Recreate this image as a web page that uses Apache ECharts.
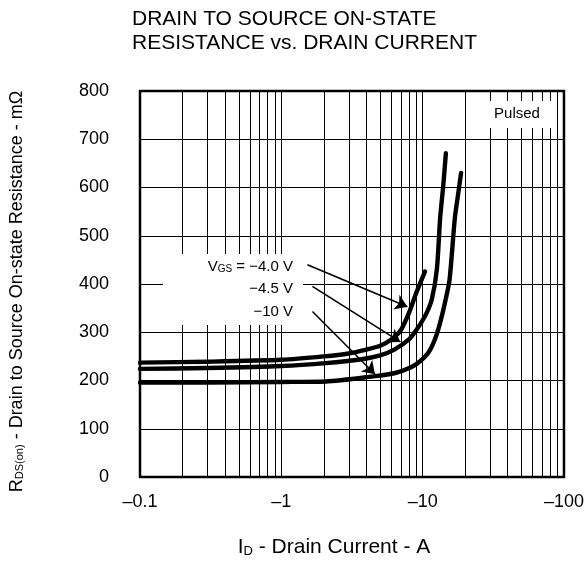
<!DOCTYPE html>
<html>
<head>
<meta charset="utf-8">
<script src="https://cdn.jsdelivr.net/npm/echarts@6/dist/echarts.min.js"></script>
<style>
html,body{margin:0;padding:0;background:#fff;}
#chart{width:587px;height:563px;}
</style>
</head>
<body>
<div id="chart"></div>
<script>
// ---- data ----
const yTicks = [0, 100, 200, 300, 400, 500, 600, 700, 800];
const xDecades = [0.1, 1, 10, 100];
const xGridTicks = [0.2,0.3,0.4,0.5,0.6,0.7,0.8,0.9,1,2,3,4,5,6,7,8,9,10,20,30,40,50,60,70,80,90];

const id_vgs40 = [0.1, 0.3, 1, 2, 3, 4, 5, 6, 7, 8, 9, 10.4];
const r_vgs40  = [237, 239, 243, 250, 256, 264, 272, 285, 304, 340, 381, 426];

const id_vgs45 = [0.1, 0.3, 1, 2.06, 3.7, 5, 6.3, 8, 9.1, 10.5, 11.6, 12.6, 13.3, 14.0, 14.6];
const r_vgs45  = [224, 226, 230, 236, 244, 252, 264, 285, 306, 336, 368, 430, 537, 605, 671];

const id_vgs10 = [0.1, 0.3, 1, 2.06, 4.58, 6.3, 8.2, 9.6, 11.0, 12.2, 13.3, 14.4, 15.5, 16.9, 17.8, 18.7];
const r_vgs10  = [196, 196, 197, 198, 209, 215, 227, 240, 258, 285, 320, 362, 409, 537, 585, 630];

// annotation arrows: [fromI, fromR, toI, toR]
const arrow40 = [1.53, 440, 7.8, 353];
const arrow45 = [1.66, 395, 6.95, 280];
const arrow10 = [1.66, 343, 4.6, 213];

const vgsLabels = ['−4.0 V', '−4.5 V', '−10 V'];

// ---- chart ----
const FONT = '"Liberation Sans", Arial, sans-serif';
const pairs = (xs, ys) => xs.map((x, i) => [x, ys[i]]);
const arrowItem = a => [{coord: [a[0], a[1]]}, {coord: [a[2], a[3]]}];

const chart = echarts.init(document.getElementById('chart'), null, {renderer: 'canvas'});

const curveStyle = {color: '#000', width: 4.4, cap: 'round', join: 'round'};

const option = {
  animation: false,
  backgroundColor: '#fff',
  textStyle: {fontFamily: FONT, color: '#000'},
  title: {
    text: 'DRAIN TO SOURCE ON-STATE\nRESISTANCE vs. DRAIN CURRENT',
    left: 127, top: 2,
    textStyle: {fontFamily: FONT, fontSize: 21, fontWeight: 'normal', color: '#000', lineHeight: 24}
  },
  grid: {
    left: 137, top: 91, right: 17, bottom: 85,
    show: true, borderColor: '#000', borderWidth: 2.5, backgroundColor: 'transparent'
  },
  xAxis: {
    type: 'log', logBase: 10, min: xDecades[0], max: xDecades[xDecades.length - 1],
    axisLine: {show: false},
    axisTick: {show: false},
    splitLine: {show: false},
    axisLabel: {
      fontFamily: FONT, fontSize: 18, color: '#000', margin: 16,
      formatter: v => '–' + v
    },
    name: 'I{sub|D} - Drain Current - A',
    nameLocation: 'middle', nameGap: 60,
    nameTextStyle: {
      fontFamily: FONT, fontSize: 21, color: '#000', padding: [0, 36, 0, 0],
      rich: {sub: {fontFamily: FONT, fontSize: 13, color: '#000', verticalAlign: 'bottom', padding: [8, 0, 0, 0]}}
    }
  },
  yAxis: {
    type: 'value', min: yTicks[0], max: yTicks[yTicks.length - 1], interval: 100,
    axisLine: {show: false},
    axisTick: {show: false},
    splitLine: {show: true, lineStyle: {color: '#000', width: 1}},
    axisLabel: {fontFamily: FONT, fontSize: 18, color: '#000', margin: 31},
    name: 'R{sub|DS(on)} - Drain to Source On-state Resistance - mΩ',
    nameLocation: 'middle', nameGap: 114, nameRotate: 90,
    nameTextStyle: {
      fontFamily: FONT, fontSize: 18, color: '#000', padding: [0, 15, 0, 0],
      rich: {sub: {fontFamily: FONT, fontSize: 11, color: '#000', padding: [6, 0, 0, 0]}}
    }
  },
  series: [
    {
      type: 'line', data: [], silent: true, z: 1,
      markLine: {
        silent: true, symbol: ['none', 'none'], animation: false,
        label: {show: false},
        lineStyle: {color: '#000', width: 1, type: 'solid'},
        emphasis: {disabled: true},
        data: xGridTicks.map(v => ({xAxis: v}))
      }
    },
    {type: 'line', name: 'VGS=-4.0V', data: pairs(id_vgs40, r_vgs40), showSymbol: false, smooth: 0.25, lineStyle: curveStyle, z: 5, silent: true},
    {type: 'line', name: 'VGS=-4.5V', data: pairs(id_vgs45, r_vgs45), showSymbol: false, smooth: 0.25, lineStyle: curveStyle, z: 5, silent: true},
    {type: 'line', name: 'VGS=-10V', data: pairs(id_vgs10, r_vgs10), showSymbol: false, smooth: 0.25, lineStyle: curveStyle, z: 5, silent: true},
    {
      type: 'line', data: [], silent: true, z: 6,
      markLine: {
        silent: true, symbol: ['none', 'arrow'], symbolSize: 12, animation: false,
        label: {show: false},
        lineStyle: {color: '#000', width: 1.6, type: 'solid'},
        itemStyle: {color: '#000'},
        emphasis: {disabled: true},
        data: [arrowItem(arrow40), arrowItem(arrow45), arrowItem(arrow10)]
      }
    }
  ],
  graphic: [
    {type: 'rect', shape: {x: 476, y: 101, width: 81, height: 27}, style: {fill: '#fff'}, z: 50, silent: true},
    {type: 'text', x: 517, y: 114, z: 51, silent: true,
      style: {text: 'Pulsed', fontFamily: FONT, fontSize: 15, fill: '#000', align: 'center', verticalAlign: 'middle'}},
    {type: 'rect', shape: {x: 163, y: 254, width: 140, height: 71}, style: {fill: '#fff'}, z: 50, silent: true},
    {type: 'text', x: 293, y: 267, z: 51, silent: true,
      style: {
        text: 'V{s|GS} = ' + vgsLabels[0], fontFamily: FONT, fontSize: 15, fill: '#000', align: 'right', verticalAlign: 'middle',
        rich: {s: {fontFamily: FONT, fontSize: 10, fill: '#000', padding: [4, 0, 0, 0]}}
      }},
    {type: 'text', x: 293, y: 289, z: 51, silent: true,
      style: {text: vgsLabels[1], fontFamily: FONT, fontSize: 15, fill: '#000', align: 'right', verticalAlign: 'middle'}},
    {type: 'text', x: 293, y: 312, z: 51, silent: true,
      style: {text: vgsLabels[2], fontFamily: FONT, fontSize: 15, fill: '#000', align: 'right', verticalAlign: 'middle'}}
  ]
};

chart.setOption(option);
</script>
</body>
</html>
